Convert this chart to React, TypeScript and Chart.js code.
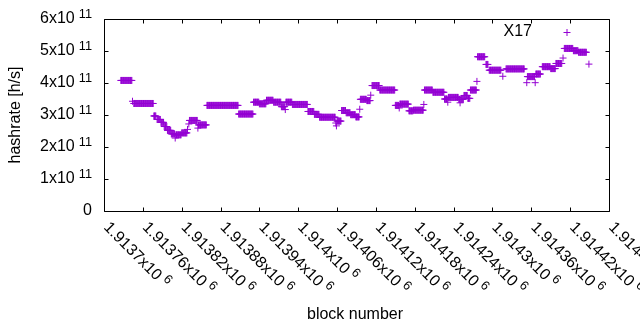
import React, { useEffect, useRef } from "react";
import { Chart, registerables } from "chart.js";

Chart.register(...registerables);

// ---- data ----
const seriesName = "X17";
const xMin = 1913700;
const xMax = 1914480;
const xTickValues = [
  1913700, 1913760, 1913820, 1913880, 1913940, 1914000, 1914060,
  1914120, 1914180, 1914240, 1914300, 1914360, 1914420, 1914480,
];
const xTickLabels = [
  "1.9137", "1.91376", "1.91382", "1.91388", "1.91394", "1.914", "1.91406",
  "1.91412", "1.91418", "1.91424", "1.9143", "1.91436", "1.91442", "1.91448",
];
const xTickExponent = "6";
const yTickValues = [0, 1e11, 2e11, 3e11, 4e11, 5e11, 6e11];
const yTickLabels = ["0", "1", "2", "3", "4", "5", "6"];
const yTickExponent = "11";
const xTitle = "block number";
const yTitle = "hashrate [h/s]";

// Runs of consecutive blocks sharing the same hashrate estimate:
// every block from runStart[i] to runEnd[i] has value runValue[i].
const runStart = [
  1913726, 1913744, 1913746, 1913777, 1913782, 1913788, 1913793, 1913798,
  1913804, 1913810, 1913811, 1913820, 1913829, 1913831, 1913832, 1913845,
  1913846, 1913859, 1913908, 1913931, 1913940, 1913951, 1913962, 1913974,
  1913980, 1913981, 1913991, 1914015, 1914025, 1914033, 1914058, 1914059,
  1914060, 1914067, 1914074, 1914081, 1914089, 1914095, 1914096, 1914106,
  1914112, 1914114, 1914126, 1914150, 1914156, 1914157, 1914171, 1914178,
  1914194, 1914195, 1914208, 1914226, 1914231, 1914232, 1914248, 1914250,
  1914251, 1914256, 1914262, 1914266, 1914276, 1914277, 1914290, 1914295,
  1914316, 1914321, 1914353, 1914354, 1914366, 1914367, 1914377, 1914390,
  1914398, 1914409, 1914411, 1914425, 1914433, 1914449,
];
const runEnd = [
  1913743, 1913744, 1913776, 1913780, 1913787, 1913792, 1913797, 1913803,
  1913809, 1913810, 1913819, 1913828, 1913829, 1913831, 1913844, 1913845,
  1913858, 1913907, 1913930, 1913939, 1913950, 1913961, 1913973, 1913979,
  1913980, 1913990, 1914014, 1914024, 1914032, 1914057, 1914058, 1914059,
  1914066, 1914073, 1914080, 1914088, 1914094, 1914095, 1914105, 1914111,
  1914112, 1914125, 1914149, 1914155, 1914156, 1914170, 1914177, 1914193,
  1914194, 1914207, 1914225, 1914230, 1914231, 1914247, 1914249, 1914250,
  1914255, 1914261, 1914265, 1914275, 1914276, 1914288, 1914293, 1914313,
  1914316, 1914349, 1914353, 1914365, 1914366, 1914374, 1914389, 1914397,
  1914407, 1914409, 1914424, 1914432, 1914445, 1914449,
];
const runValue = [
  4.08e11, 3.43e11, 3.36e11, 2.97e11, 2.86e11, 2.77e11, 2.64e11, 2.52e11,
  2.41e11, 2.28e11, 2.38e11, 2.44e11, 2.55e11, 2.72e11, 2.83e11, 2.59e11,
  2.69e11, 3.3e11, 3.03e11, 3.4e11, 3.35e11, 3.46e11, 3.4e11, 3.26e11,
  3.17e11, 3.4e11, 3.33e11, 3.11e11, 3.02e11, 2.93e11, 2.75e11, 2.66e11,
  2.81e11, 3.14e11, 3.07e11, 3.01e11, 2.94e11, 3.18e11, 3.49e11, 3.45e11,
  3.62e11, 3.92e11, 3.78e11, 3.3e11, 3.22e11, 3.34e11, 3.13e11, 3.15e11,
  3.33e11, 3.78e11, 3.71e11, 3.5e11, 3.4e11, 3.55e11, 3.49e11, 3.38e11,
  3.49e11, 3.61e11, 3.52e11, 3.78e11, 4.05e11, 4.82e11, 4.58e11, 4.4e11,
  4.21e11, 4.44e11, 4.01e11, 4.2e11, 4.01e11, 4.28e11, 4.51e11, 4.45e11,
  4.61e11, 4.78e11, 5.08e11, 5.01e11, 4.96e11, 4.59e11,
];

const COLOR = "#9400d3";
const FAMILY = "'Liberation Sans', Arial, sans-serif";
const FONT = `16px ${FAMILY}`;
const SUP_FONT = `12.8px ${FAMILY}`;

function buildPoints() {
  const pts: { x: number; y: number }[] = [];
  for (let i = 0; i < runStart.length; i++) {
    for (let b = runStart[i]; b <= runEnd[i]; b++) {
      pts.push({ x: b, y: runValue[i] });
    }
  }
  return pts;
}

const gnuplotFrame = {
  id: "gnuplotFrame",
  afterDraw(chart: any) {
    const { ctx, chartArea: a, scales } = chart;
    const xs = scales.x;
    const ys = scales.y;
    const L = Math.round(a.left) + 0.5;
    const R = Math.round(a.right) + 0.5;
    const T = Math.round(a.top) + 0.5;
    const B = Math.round(a.bottom) + 0.5;
    const tick = 4;
    ctx.save();
    ctx.strokeStyle = "#000";
    ctx.lineWidth = 1;
    ctx.beginPath();
    ctx.rect(L, T, R - L, B - T);
    // y ticks (left and mirrored right)
    yTickValues.forEach((v) => {
      const py = Math.round(ys.getPixelForValue(v)) + 0.5;
      ctx.moveTo(L, py);
      ctx.lineTo(L + tick, py);
      ctx.moveTo(R, py);
      ctx.lineTo(R - tick, py);
    });
    // x ticks (bottom and mirrored top)
    xTickValues.forEach((v) => {
      const px = Math.round(xs.getPixelForValue(v)) + 0.5;
      ctx.moveTo(px, B);
      ctx.lineTo(px, B - tick);
      ctx.moveTo(px, T);
      ctx.lineTo(px, T + tick);
    });
    ctx.stroke();

    ctx.fillStyle = "#000";
    ctx.textBaseline = "middle";
    // y tick labels
    const yRight = 92;
    yTickValues.forEach((v, i) => {
      const py = ys.getPixelForValue(v);
      if (v === 0) {
        ctx.font = FONT;
        ctx.textAlign = "right";
        ctx.fillText(yTickLabels[i], yRight, py);
        return;
      }
      ctx.font = SUP_FONT;
      const wSup = ctx.measureText(yTickExponent).width;
      const sx = yRight - wSup;
      ctx.textAlign = "left";
      ctx.fillText(yTickExponent, sx, py - 5);
      ctx.font = FONT;
      ctx.textAlign = "right";
      ctx.fillText(yTickLabels[i] + "x10", sx - 4, py);
    });

    // x tick labels, rotated -45 degrees
    xTickValues.forEach((v, i) => {
      const px = xs.getPixelForValue(v);
      ctx.save();
      ctx.translate(px + 2, a.bottom + 14);
      ctx.rotate(Math.PI / 4);
      ctx.font = FONT;
      ctx.textAlign = "left";
      const base = xTickLabels[i] + "x10";
      ctx.fillText(base, 0, 0);
      const w = ctx.measureText(base).width;
      ctx.font = SUP_FONT;
      ctx.fillText(xTickExponent, w + 4, -5);
      ctx.restore();
    });

    // axis titles
    ctx.font = FONT;
    ctx.textAlign = "center";
    ctx.fillText(xTitle, 355, 315);
    ctx.save();
    ctx.translate(16, (a.top + a.bottom) / 2);
    ctx.rotate(-Math.PI / 2);
    ctx.fillText(yTitle, 0, 0);
    ctx.restore();

    // key
    ctx.textAlign = "right";
    ctx.fillText(seriesName, 532, 32);
    ctx.strokeStyle = COLOR;
    ctx.beginPath();
    ctx.moveTo(563.5, 32.5);
    ctx.lineTo(570.5, 32.5);
    ctx.moveTo(567, 29);
    ctx.lineTo(567, 36);
    ctx.stroke();
    ctx.restore();
  },
};

export default function App() {
  const ref = useRef<HTMLCanvasElement | null>(null);
  useEffect(() => {
    if (!ref.current) return;
    const chart = new Chart(ref.current, {
      type: "scatter",
      data: {
        datasets: [
          {
            label: seriesName,
            data: buildPoints(),
            pointStyle: "cross",
            pointRadius: 3.5,
            pointHoverRadius: 3.5,
            pointBorderWidth: 1,
            borderColor: COLOR,
            backgroundColor: COLOR,
            showLine: false,
          },
        ],
      },
      options: {
        animation: false,
        responsive: false,
        devicePixelRatio: 1,
        events: [],
        layout: { padding: { left: 104, right: 31, top: 19, bottom: 119 } },
        plugins: { legend: { display: false }, tooltip: { enabled: false } },
        scales: {
          x: { type: "linear", min: xMin, max: xMax, display: false },
          y: { type: "linear", min: 0, max: 6e11, display: false },
        },
      },
      plugins: [gnuplotFrame],
    });
    return () => chart.destroy();
  }, []);
  return (
    <div style={{ position: "absolute", left: 0, top: 0, width: 640, height: 330, background: "#fff" }}>
      <canvas ref={ref} width={640} height={330} style={{ display: "block" }} />
    </div>
  );
}
